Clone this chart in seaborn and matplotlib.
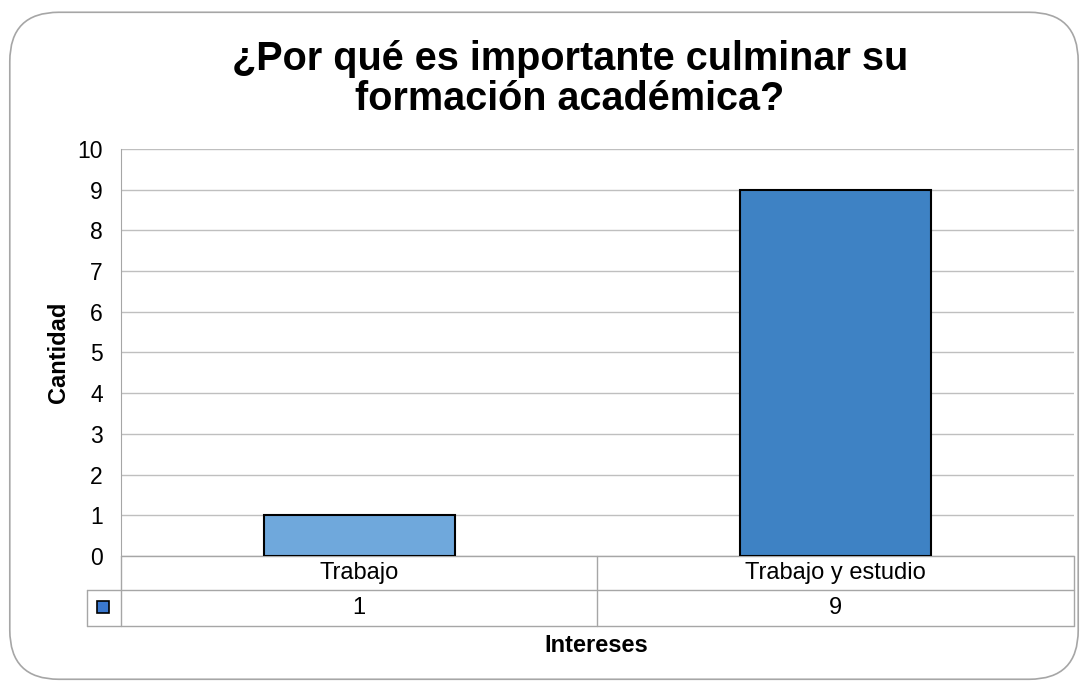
import matplotlib
matplotlib.use("Agg")
from matplotlib import pyplot as plt
from matplotlib.patches import FancyBboxPatch, Rectangle
import seaborn as sns
import pandas as pd

# Data
categories = ['Trabajo', 'Trabajo y estudio']
values = [1, 9]
bar_colors = ['#6fa8dc', '#3e82c4']
legend_color = '#3a78cf'

df = pd.DataFrame({'Intereses': categories, 'Cantidad': values})

sns.set_style('white')
plt.rcParams['font.family'] = ['Liberation Sans', 'DejaVu Sans']
plt.rcParams['text.color'] = 'black'
plt.rcParams['axes.labelcolor'] = 'black'

fig = plt.figure(figsize=(10.88, 6.82), dpi=100)

# rounded chart border
border = FancyBboxPatch((0.009, 0.004), 0.982, 0.978, boxstyle='round,pad=0,rounding_size=0.045',
                        transform=fig.transFigure, facecolor='none', edgecolor='#a6a6a6',
                        linewidth=1.2, mutation_aspect=1.6, zorder=-1)
fig.patches.append(border)

ax = fig.add_axes([0.1112, 0.1848, 0.8759, 0.5968])
sns.barplot(data=df, x='Intereses', y='Cantidad', hue='Intereses', palette=bar_colors,
            saturation=1, width=0.4, edgecolor='black', linewidth=1.5, legend=False,
            ax=ax, zorder=3)

ax.set_ylim(0, 10)
ax.set_xlim(-0.5, 1.5)
ax.set_yticks(range(0, 11))
ax.tick_params(axis='y', labelsize=16.5, length=0, pad=13, colors='black')
ax.set_xticks([])
ax.set_xlabel('')
ax.set_ylabel('Cantidad', fontsize=17, fontweight='bold', labelpad=5)
ax.grid(axis='y', color='#bfbfbf', linewidth=1, zorder=0)
for s in ['top', 'right', 'bottom']:
    ax.spines[s].set_visible(False)
ax.spines['left'].set_color('#a6a6a6')

# data table below axes
line_kw = dict(color='#a6a6a6', linewidth=1, transform=ax.transAxes, clip_on=False)
row1 = -0.0835
row2 = -0.172
xleft = -0.0357
ax.plot([0, 1], [0, 0], **line_kw)
ax.plot([0, 0], [0, row2], **line_kw)
ax.plot([0.5, 0.5], [0, row2], **line_kw)
ax.plot([1, 1], [0, row2], **line_kw)
ax.plot([xleft, 1], [row1, row1], **line_kw)
ax.plot([xleft, 1], [row2, row2], **line_kw)
ax.plot([xleft, xleft], [row1, row2], **line_kw)

for i, (cat, val) in enumerate(zip(categories, values)):
    xc = 0.25 + 0.5 * i
    ax.text(xc, row1 / 2, cat, transform=ax.transAxes, ha='center', va='center', fontsize=17)
    ax.text(xc, (row1 + row2) / 2, str(val), transform=ax.transAxes, ha='center', va='center',
            fontsize=17)

key = Rectangle((97 / 1088, 1 - 613 / 682), 12 / 1088, 12 / 682, transform=fig.transFigure,
                facecolor=legend_color, edgecolor='black', linewidth=1.2)
fig.patches.append(key)

fig.text(596 / 1088, 1 - 645 / 682, 'Intereses', ha='center', va='center', fontsize=17,
         fontweight='bold')
fig.text(570 / 1088, 1 - 79 / 682, '¿Por qué es importante culminar su\nformación académica?',
         ha='center', va='center', fontsize=28.5, fontweight='bold', linespacing=1.1)

plt.savefig('out.png', dpi=100)
plt.close()
